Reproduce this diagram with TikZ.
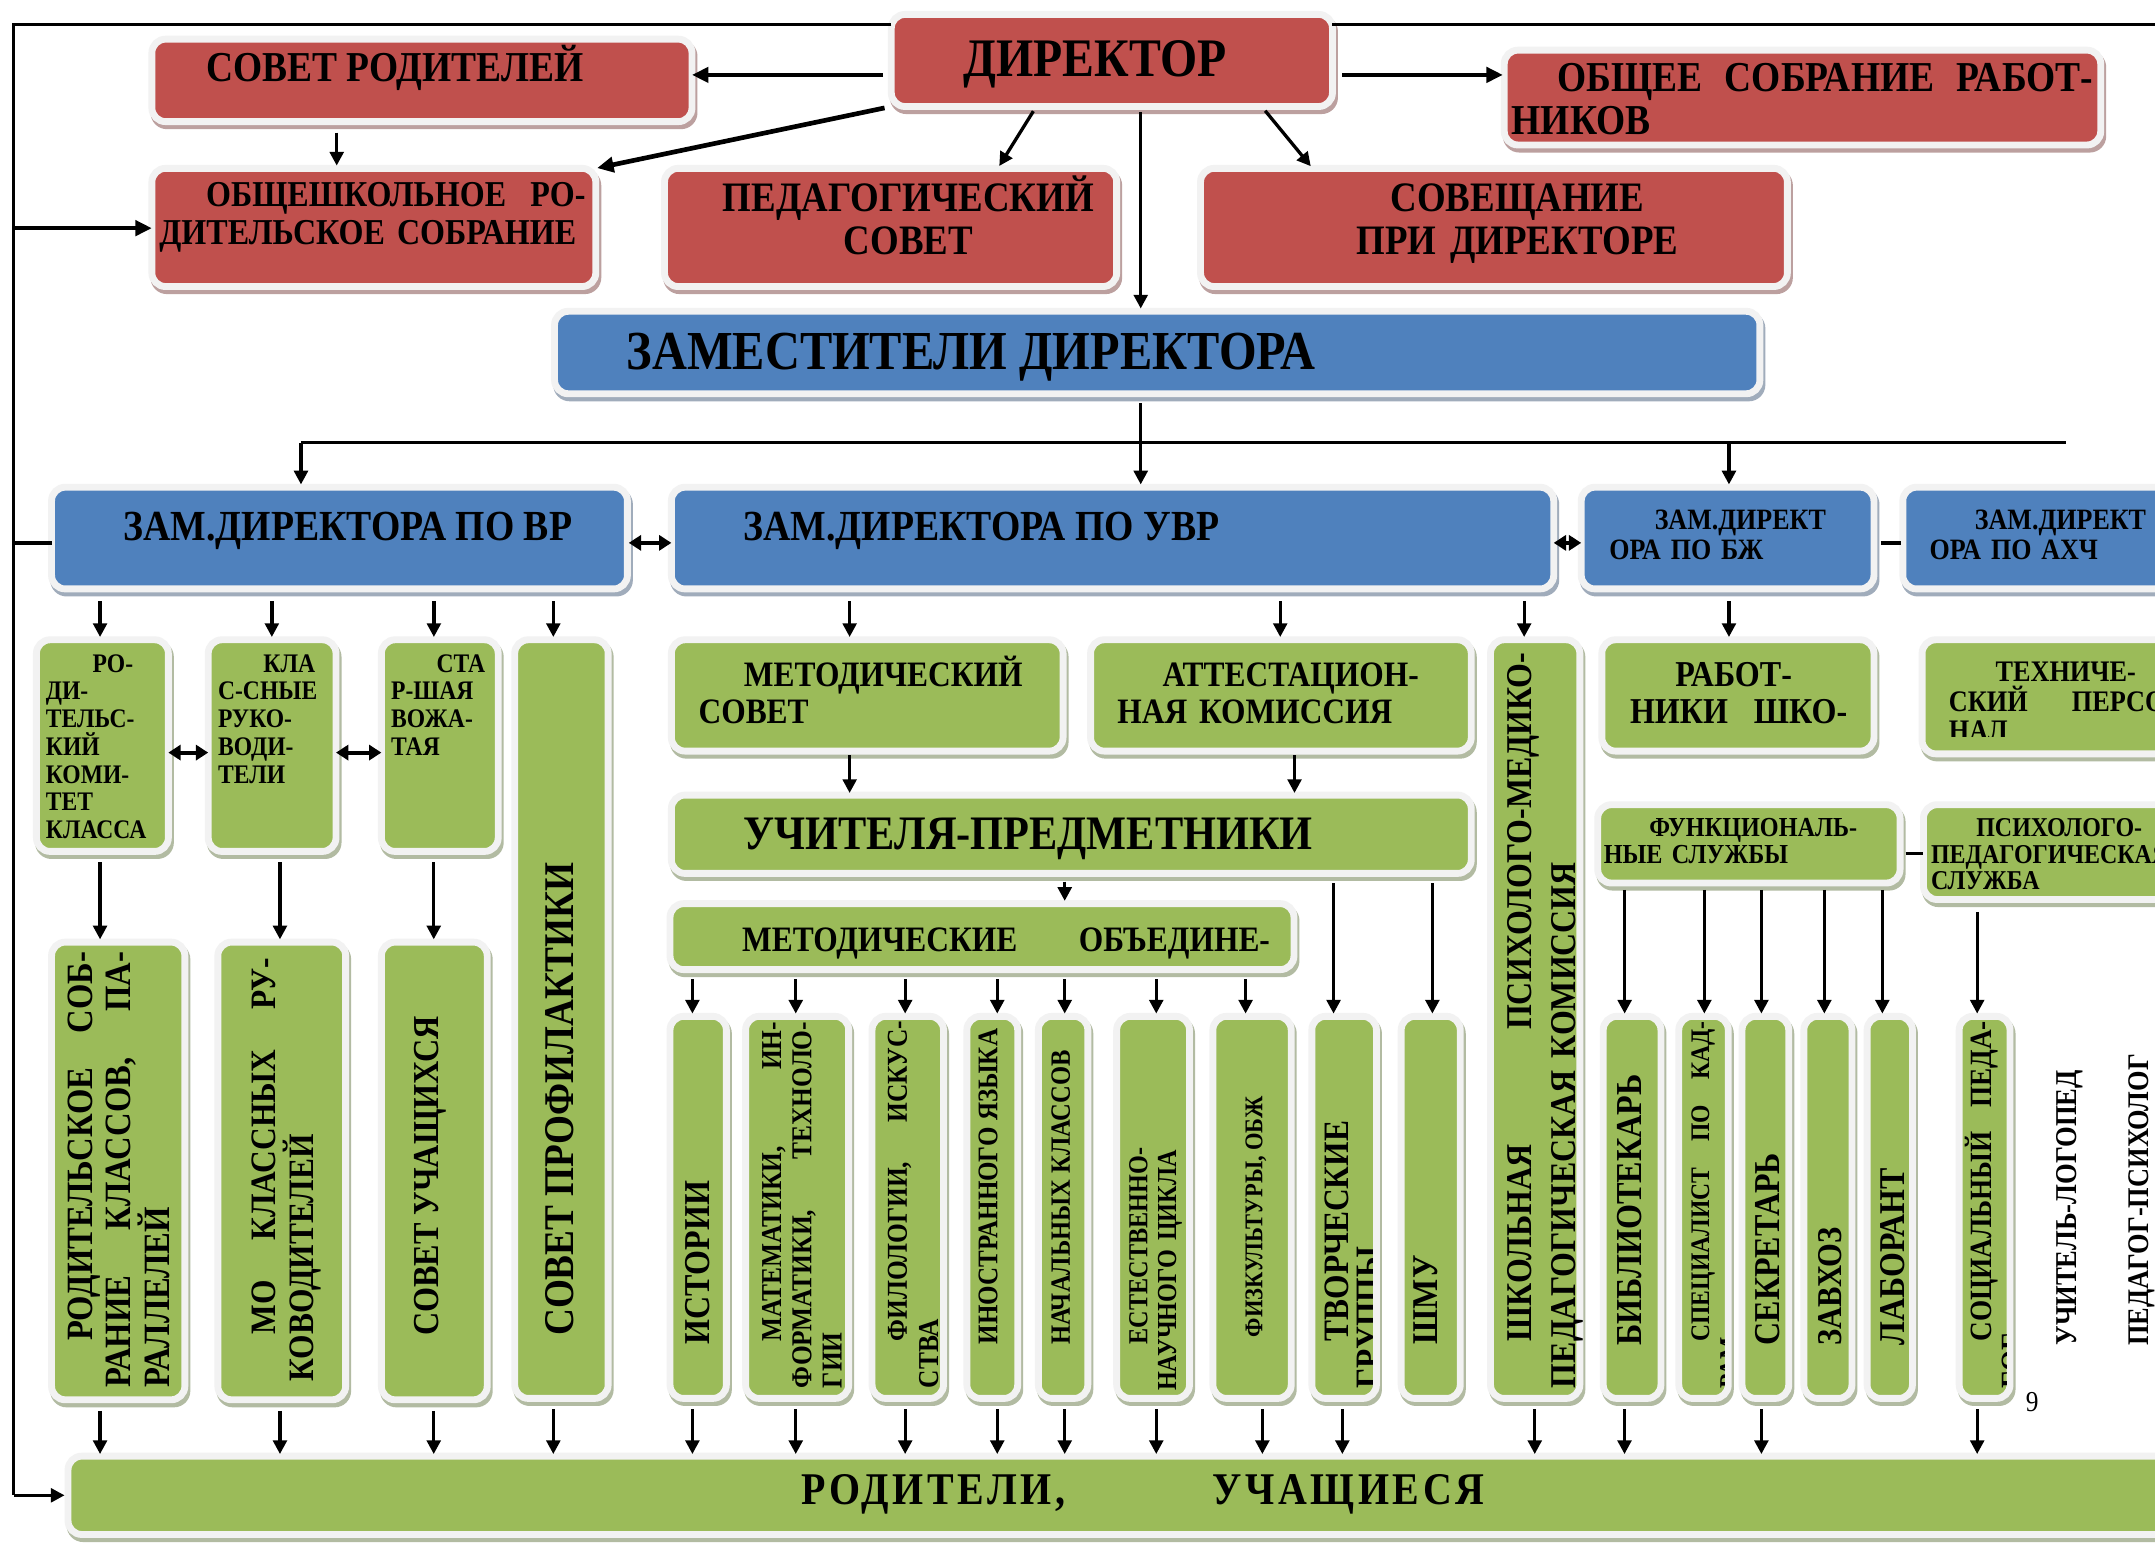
\documentclass[tikz,border=0pt]{standalone}
\usepackage{fontspec}
\setmainfont{Liberation Serif}[FakeStretch=0.88]
\newfontfamily\lsfont{Liberation Serif}[FakeStretch=0.88,LetterSpace=8]
\usetikzlibrary{arrows.meta}
\definecolor{cred}{HTML}{C0504D}
\definecolor{cblue}{HTML}{4F81BD}
\definecolor{cgreen}{HTML}{9BBB59}
\definecolor{halo}{HTML}{F2F2F2}
\newcommand\Jl[1]{\noindent\hbox to\linewidth{#1}}
\newcommand\Nl[1]{\noindent\hbox{#1}}
\newcommand\fsz[2]{\fontsize{#1}{#2}\selectfont\bfseries}
\newcommand\bx[6]{%
  \fill[#6!55!black!45!white, rounded corners=12pt] ({#2-5+1.5},{#3-5+3}) rectangle ({#4+5+1.5},{#5+5+3});
  \node[box, fill=#6, minimum width={#4-#2+5}, minimum height={#5-#3+5}] (#1) at ({(#2+#4)/2},{(#3+#5)/2}) {};}
\begin{document}
\begin{tikzpicture}[x=1pt,y=-1pt,
  box/.style={draw=halo, line width=5pt, rounded corners=10pt, inner sep=0pt, outer sep=0pt},
  ln/.style={line width=2.4pt},
  arr/.style={line width=2.4pt, -{Triangle[length=10pt,width=10pt]}},
  arrT/.style={line width=3.4pt, -{Triangle[length=12pt,width=11pt]}},
  darr/.style={line width=3pt, {Triangle[length=9pt,width=11pt]}-{Triangle[length=9pt,width=11pt]}},
  tx/.style={anchor=base west, inner sep=0pt, outer sep=0pt},
  tw/.style={tx, text width=#1, align=left},
  vt/.style={tx, rotate=90},
  vtw/.style={tw=#1, rotate=90}]
\useasboundingbox (0,0) rectangle (1568,1123);
\clip (0,0) rectangle (1568,1123);
\fill[white] (0,0) rectangle (1568,1123);
% ---------- boxes
\bx{dir}{651}{13}{967}{75}{cred}
\bx{sr}{113}{31}{501}{86}{cred}
\bx{osh}{113}{125}{431}{206}{cred}
\bx{ped}{486}{125}{810}{206}{cred}
\bx{sov}{876}{125}{1298}{206}{cred}
\bx{obs}{1097}{39}{1526}{103}{cred}
\bx{zam}{406}{229}{1278}{284}{cblue}
\bx{vr}{40}{357}{454}{426}{cblue}
\bx{uvr}{491}{357}{1128}{426}{cblue}
\bx{bzh}{1153}{357}{1361}{426}{cblue}
\bx{ahch}{1387}{357}{1610}{426}{cblue}
\bx{rk}{29}{468}{120}{617}{cgreen}
\bx{kr}{154}{468}{242}{617}{cgreen}
\bx{sv}{280}{468}{360}{617}{cgreen}
\bx{prof}{377}{468}{440}{1015}{cgreen}
\bx{ms}{491}{468}{771}{544}{cgreen}
\bx{att}{796}{468}{1068}{544}{cgreen}
\bx{pmpk}{1087}{468}{1147}{1015}{cgreen}
\bx{rab}{1168}{468}{1361}{544}{cgreen}
\bx{teh}{1401}{468}{1610}{546}{cgreen}
\bx{up}{491}{581}{1068}{633}{cgreen}
\bx{fs}{1165}{588}{1380}{640}{cgreen}
\bx{pps}{1402}{588}{1610}{652}{cgreen}
\bx{mob}{490}{660}{939}{703}{cgreen}
\bx{rs}{40}{688}{132}{1016}{cgreen}
\bx{mo}{161}{688}{249}{1016}{cgreen}
\bx{su}{280}{688}{352}{1016}{cgreen}
\bx{ist}{490}{742}{526}{1015}{cgreen}
\bx{mat}{545}{742}{615}{1015}{cgreen}
\bx{fil}{637}{742}{684}{1015}{cgreen}
\bx{ino}{706}{742}{738}{1015}{cgreen}
\bx{nach}{758}{742}{789}{1015}{cgreen}
\bx{est}{815}{742}{863}{1015}{cgreen}
\bx{fiz}{885}{742}{937}{1015}{cgreen}
\bx{tvor}{957}{742}{999}{1015}{cgreen}
\bx{shmu}{1022}{742}{1060}{1015}{cgreen}
\bx{bib}{1169}{742}{1206}{1015}{cgreen}
\bx{spec}{1224}{742}{1255}{1015}{cgreen}
\bx{sek}{1270}{742}{1299}{1015}{cgreen}
\bx{zav}{1315}{742}{1345}{1015}{cgreen}
\bx{lab}{1361}{742}{1389}{1015}{cgreen}
\bx{soc}{1428}{742}{1460}{1015}{cgreen}
\bx{rod}{52}{1062}{1610}{1114}{cgreen}
% ---------- frame lines
\coordinate (fTL) at (10,18);
\coordinate (fTR) at (1575,18);
\coordinate (fBL) at (10,1088);
\coordinate (fO) at (10,166);
\coordinate (fV) at (10,395);
\draw[ln] (dir.west |- fTL) -- (fTL) -- (fBL);
\draw[ln] (dir.east |- fTR) -- (fTR);
\draw[arr, shorten >=2.5pt] (fBL) -- (rod.west |- fBL);
\draw[arrT] (fO) -- (osh.west |- fO);
\draw[ln] (fV) -- (vr.west |- fV);
% ---------- director
\coordinate (y54) at (0,54.5);
\draw[arrT, shorten <=6pt] (dir.west |- y54) -- (sr.east |- y54);
\draw[arrT, shorten <=5pt, shorten >=1pt] (dir.south west) -- (osh.north east);
\coordinate (x754) at (754,0); \coordinate (x726) at (726,0);
\draw[arr, shorten <=4pt, shorten >=2pt] (dir.south -| x754) -- (ped.north -| x726);
\coordinate (x830) at (830,0);
\draw[arr, shorten <=4pt, shorten >=2pt] (dir.south -| x830) -- (zam.north -| x830);
\coordinate (x918) at (918,0); \coordinate (x955) at (955,0);
\draw[arr, shorten <=4pt, shorten >=2pt] (dir.south -| x918) -- (sov.north -| x955);
\draw[arrT, shorten <=7pt, shorten >=1pt] (dir.east |- y54) -- (obs.west |- y54);
\coordinate (x245) at (245,0);
\draw[arr, shorten <=8pt, shorten >=2pt] (sr.south -| x245) -- (osh.north -| x245);
% ---------- bus
\coordinate (bL) at (219,322); \coordinate (bM) at (830,322);
\coordinate (bB) at (1258,322); \coordinate (bR) at (1503,322);
\draw[ln, shorten <=7pt] (zam.south -| bM) -- (bM);
\draw[ln] (bL) -- (bR);
\draw[arr, shorten >=2pt] (bL) -- (vr.north -| bL);
\draw[arr, shorten >=2pt] (bM) -- (uvr.north -| bM);
\draw[arr, shorten >=2pt] (bB) -- (bzh.north -| bB);
\coordinate (y395) at (0,395);
\draw[darr, shorten <=1pt] (vr.east |- y395) -- (uvr.west |- y395);
\draw[darr] (uvr.east |- y395) -- (bzh.west |- y395);
\draw[ln, shorten <=5pt, shorten >=1pt] (bzh.east |- y395) -- (ahch.west |- y395);
% ---------- VR branch
\foreach \n/\x in {rk/72.8, kr/197.8, sv/315.7, prof/402.6} {
  \coordinate (t) at (\x,0);
  \draw[arr, shorten <=9pt, shorten >=2pt] (vr.south -| t) -- (\n.north -| t);}
\coordinate (y547) at (0,547.6);
\draw[darr] (rk.east |- y547) -- (kr.west |- y547);
\draw[darr] (kr.east |- y547) -- (sv.west |- y547);
\foreach \a/\b/\x in {rk/rs/72.8, kr/mo/203.7, sv/su/315.6} {
  \coordinate (t) at (\x,0);
  \draw[arr, shorten <=8pt, shorten >=2pt] (\a.south -| t) -- (\b.north -| t);}
% ---------- UVR branch
\foreach \n/\x in {ms/618.2, att/931.5, pmpk/1109} {
  \coordinate (t) at (\x,0);
  \draw[arr, shorten <=9pt, shorten >=2pt] (uvr.south -| t) -- (\n.north -| t);}
\foreach \n/\x in {ms/618.2, att/941.9} {
  \coordinate (t) at (\x,0);
  \draw[arr, shorten <=3pt, shorten >=1.5pt] (\n.south -| t) -- (up.north -| t);}
\coordinate (xmo) at (774.7,0);
\draw[arr, shorten <=6pt, shorten >=2pt] (up.south -| xmo) -- (mob.north -| xmo);
\foreach \n/\x in {tvor/970.3, shmu/1042.2} {
  \coordinate (t) at (\x,0);
  \draw[arr, shorten <=7pt, shorten >=2pt] (up.south -| t) -- (\n.north -| t);}
\foreach \n/\x in {ist/503.8, mat/579, fil/658.6, ino/725.6, nach/774.7, est/841.3, fiz/906.3} {
  \coordinate (t) at (\x,0);
  \draw[arr, shorten <=7pt, shorten >=2pt] (mob.south -| t) -- (\n.north -| t);}
% ---------- BZh / services
\coordinate (xrb) at (1258,0);
\draw[arr, shorten <=9pt, shorten >=2pt] (bzh.south -| xrb) -- (rab.north -| xrb);
\foreach \n/\x in {bib/1182.1, spec/1240.1, sek/1281.6, zav/1327.4, lab/1369.6} {
  \coordinate (t) at (\x,0);
  \draw[arr, shorten <=5pt, shorten >=2pt] (fs.south -| t) -- (\n.north -| t);}
\coordinate (xsc) at (1438.6,0);
\draw[arr, shorten <=9pt, shorten >=2pt] (pps.south -| xsc) -- (soc.north -| xsc);
\coordinate (y621) at (0,621);
\draw[ln, shorten <=4pt] (fs.east |- y621) -- (pps.west |- y621);
% ---------- to parents/pupils
\foreach \n/\x in {rs/72.8, mo/203.7, su/315.6, prof/402.6, ist/503.8, mat/579, fil/658.6, ino/725.6, nach/774.7, est/841.3, fiz/918.5, tvor/976.7, pmpk/1116.7, bib/1182, sek/1281.6, soc/1438.6} {
  \coordinate (t) at (\x,0);
  \draw[arr, shorten <=8pt, shorten >=1.5pt] (\n.south -| t) -- (rod.north -| t);}
% ---------- horizontal texts
\node[tx, font={\fsz{39.5}{40}}] (t-dir) at (701,56) {ДИРЕКТОР};
\node[tx, font={\fsz{31}{32}}] (t-sr) at (150,59.4) {СОВЕТ РОДИТЕЛЕЙ};
\node[tw=310pt, font={\fsz{26.5}{27.8}}] (t-osh) at (116,150.4) {\Jl{\hspace{34pt}ОБЩЕШКОЛЬНОЕ\hfill РО-}\\\Nl{ДИТЕЛЬСКОЕ СОБРАНИЕ}};
\node[tw=330pt, align=center, anchor=base, font={\fsz{30.5}{31.5}}] (t-ped) at (661,154) {ПЕДАГОГИЧЕСКИЙ\\СОВЕТ};
\node[tw=330pt, align=center, anchor=base, font={\fsz{30.5}{31.5}}] (t-sov) at (1104,154) {СОВЕЩАНИЕ\\ПРИ ДИРЕКТОРЕ};
\node[tw=423pt, font={\fsz{31}{31.5}}] (t-obs) at (1100,66.7) {\Jl{\hspace{33pt}ОБЩЕЕ\hfill СОБРАНИЕ\hfill РАБОТ-}\\\Nl{НИКОВ}};
\node[tx, font={\fsz{40}{41}}] (t-zam) at (456,269) {ЗАМЕСТИТЕЛИ ДИРЕКТОРА};
\node[tx, font={\fsz{31.2}{32}}] (t-vr) at (90,393) {ЗАМ.ДИРЕКТОРА ПО ВР};
\node[tx, font={\fsz{31.2}{32}}] (t-uvr) at (541,393) {ЗАМ.ДИРЕКТОРА ПО УВР};
\node[tw=165pt, font={\fsz{21.5}{22}}] (t-bzh) at (1171,385) {\Nl{\hspace{33pt}ЗАМ.ДИРЕКТ}\\\Nl{ОРА ПО БЖ}};
\node[tw=160pt, font={\fsz{21.5}{22}}] (t-ahch) at (1404,385) {\Nl{\hspace{33pt}ЗАМ.ДИРЕКТ}\\\Nl{ОРА ПО АХЧ}};
\node[tw=84pt, font={\fsz{19.5}{20.2}}] (t-rk) at (33.4,489) {\Nl{\hspace{34pt}РО-}\\\Nl{ДИ-}\\\Nl{ТЕЛЬС-}\\\Nl{КИЙ}\\\Nl{КОМИ-}\\\Nl{ТЕТ}\\\Nl{КЛАССА}};
\node[tw=80pt, font={\fsz{19.5}{20.2}}] (t-kr) at (158.7,489) {\Nl{\hspace{33pt}КЛА}\\\Nl{С-СНЫЕ}\\\Nl{РУКО-}\\\Nl{ВОДИ-}\\\Nl{ТЕЛИ}};
\node[tw=72pt, font={\fsz{19.5}{20.2}}] (t-sv) at (284.6,489) {\Nl{\hspace{33pt}СТА}\\\Nl{Р-ШАЯ}\\\Nl{ВОЖА-}\\\Nl{ТАЯ}};
\node[tw=250pt, font={\fsz{26}{26.5}}] (t-ms) at (508.3,499.6) {\Nl{\hspace{33pt}МЕТОДИЧЕСКИЙ}\\\Nl{СОВЕТ}};
\node[tw=245pt, font={\fsz{26}{26.5}}] (t-att) at (813,499.6) {\Nl{\hspace{33pt}АТТЕСТАЦИОН-}\\\Nl{НАЯ КОМИССИЯ}};
\node[tx, font={\fsz{35}{36}}] (t-up) at (541,618.4) {УЧИТЕЛЯ-ПРЕДМЕТНИКИ};
\node[tw=418pt, font={\fsz{26}{27}}] (t-mob) at (506,692) {\Jl{\hspace{34pt}МЕТОДИЧЕСКИЕ\hfill ОБЪЕДИНЕ-}};
\begin{scope}
  \clip (1168,468) rectangle (1361,544);
  \node[tw=158pt, font={\fsz{26.5}{26.5}}] (t-rab) at (1186,499.6) {\Nl{\hspace{33pt}РАБОТ-}\\\Jl{НИКИ\hfill ШКО-}};
\end{scope}
\begin{scope}
  \clip (1401,468) rectangle (1610,536);
  \node[tw=164pt, font={\fsz{21.7}{21.5}}] (t-teh) at (1418,496) {\Nl{\hspace{34pt}ТЕХНИЧЕ-}\\\Jl{СКИЙ\hfill ПЕРСО-}\\\Nl{НАЛ}};
\end{scope}
\node[tw=184pt, font={\fsz{20}{19.4}}] (t-fs) at (1167,608.7) {\Nl{\hspace{33pt}ФУНКЦИОНАЛЬ-}\\\Nl{НЫЕ СЛУЖБЫ}};
\node[tw=160pt, font={\fsz{19.8}{19.4}}] (t-pps) at (1405,608.7) {\Nl{\hspace{33pt}ПСИХОЛОГО-}\\\Nl{ПЕДАГОГИЧЕСКАЯ}\\\Nl{СЛУЖБА}};
\node[tw=497pt, font={\lsfont\fsz{33}{34}}] (t-rod) at (583,1095) {\Jl{РОДИТЕЛИ,\hfill УЧАЩИЕСЯ}};
% ---------- vertical texts
\node[vtw=317pt, font={\fsz{27}{28}}] (t-rs) at (67,1009.7) {\Jl{\hspace{34pt}РОДИТЕЛЬСКОЕ\hfill СОБ-}\\\Jl{РАНИЕ\hfill КЛАССОВ,\hfill ПА-}\\\Nl{РАЛЛЕЛЕЙ}};
\node[vtw=308pt, font={\fsz{26}{27.4}}] (t-mo) at (200.4,1005) {\Jl{\hspace{34pt}МО\hfill КЛАССНЫХ\hfill РУ-}\\\Nl{КОВОДИТЕЛЕЙ}};
\node[vt, font={\fsz{26.6}{28}}] (t-su) at (319,972) {СОВЕТ УЧАЩИХСЯ};
\node[vt, font={\fsz{30.8}{31}}] (t-prof) at (417.5,972) {СОВЕТ ПРОФИЛАКТИКИ};
\node[vt, font={\fsz{26.5}{28}}] (t-ist) at (516.5,978) {ИСТОРИИ};
\node[vtw=266.5pt, font={\fsz{21}{22}}] (t-mat) at (568.4,1010) {\Jl{\hspace{34pt}МАТЕМАТИКИ,\hfill ИН-}\\\Jl{ФОРМАТИКИ,\hfill ТЕХНОЛО-}\\\Nl{ГИИ}};
\node[vtw=267pt, font={\fsz{21}{22.8}}] (t-fil) at (659.8,1010) {\Jl{\hspace{34pt}ФИЛОЛОГИИ,\hfill ИСКУС-}\\\Nl{СТВА}};
\node[vt, font={\fsz{20.7}{22}}] (t-ino) at (725.6,978) {ИНОСТРАННОГО ЯЗЫКА};
\node[vt, font={\fsz{20.3}{22}}] (t-nach) at (778.5,978) {НАЧАЛЬНЫХ КЛАССОВ};
\node[vtw=267pt, font={\fsz{20}{21}}] (t-est) at (834.8,1012) {\Nl{\hspace{34pt}ЕСТЕСТВЕННО-}\\\Nl{НАУЧНОГО ЦИКЛА}};
\node[vt, font={\fsz{18.6}{20}}] (t-fiz) at (918.5,973) {ФИЗКУЛЬТУРЫ, ОБЖ};
\begin{scope}
  \clip (957,742) rectangle (998.5,1015);
  \node[vtw=267pt, font={\fsz{26}{23}}] (t-tvor) at (981.3,1010) {\Nl{\hspace{34pt}ТВОРЧЕСКИЕ}\\\Nl{ГРУППЫ}};
\end{scope}
\node[vt, font={\fsz{26.4}{28}}] (t-shmu) at (1046,978) {ШМУ};
\node[vtw=535pt, font={\fsz{26.4}{32}}] (t-pmpk) at (1114,1010) {\Jl{\hspace{34pt}ШКОЛЬНАЯ\hfill ПСИХОЛОГО-МЕДИКО-}\\\Nl{ПЕДАГОГИЧЕСКАЯ КОМИССИЯ}};
\node[vt, font={\fsz{26.6}{28}}] (t-bib) at (1194,979) {БИБЛИОТЕКАРЬ};
\begin{scope}
  \clip (1224,742) rectangle (1255,1015);
  \node[vtw=267pt, font={\fsz{19.5}{21}}] (t-spec) at (1243.5,1010) {\Jl{\hspace{34pt}СПЕЦИАЛИСТ\hfill ПО\hfill КАД-}\\\Nl{РАМ}};
\end{scope}
\node[vt, font={\fsz{26.5}{28}}] (t-sek) at (1295,979) {СЕКРЕТАРЬ};
\node[vt, font={\fsz{25.3}{28}}] (t-zav) at (1339.7,979) {ЗАВХОЗ};
\node[vt, font={\fsz{26.4}{28}}] (t-lab) at (1386,979) {ЛАБОРАНТ};
\begin{scope}
  \clip (1428,742) rectangle (1460,1015);
  \node[vtw=267pt, font={\fsz{22.5}{22.5}}] (t-soc) at (1449.2,1010) {\Jl{\hspace{34pt}СОЦИАЛЬНЫЙ\hfill ПЕДА-}\\\Nl{ГОГ}};
\end{scope}
\node[vt, font={\fsz{22}{24}}] (t-ulog) at (1510.5,979) {УЧИТЕЛЬ-ЛОГОПЕД};
\node[vt, font={\fsz{21.8}{24}}] (t-ppsy) at (1563.6,979) {ПЕДАГОГ-ПСИХОЛОГ};
\node[tx, font={\fontsize{21}{22}\selectfont}] (t-nine) at (1474,1027) {9};
\end{tikzpicture}
\end{document}
